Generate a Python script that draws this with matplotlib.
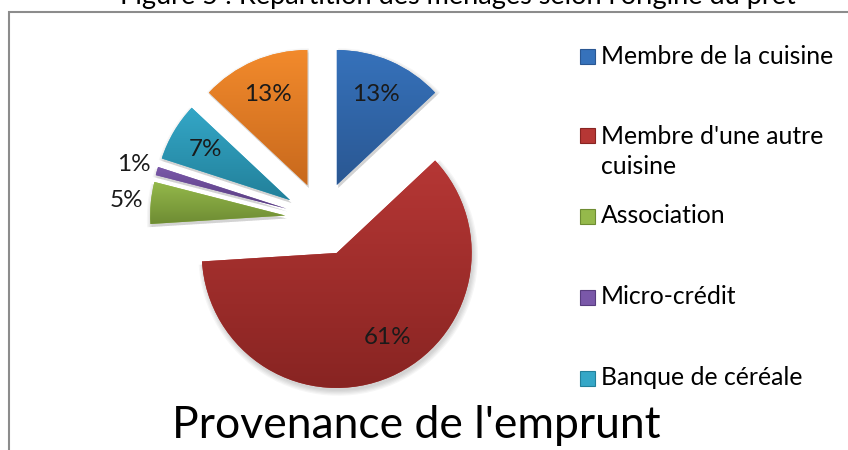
import matplotlib
matplotlib.use('Agg')
import matplotlib.pyplot as plt
import numpy as np
from matplotlib.patches import Rectangle, Wedge
from matplotlib.colors import LinearSegmentedColormap

# ---- data ----
categories = ["Membre de la cuisine", "Membre d'une autre cuisine", "Association",
              "Micro-crédit", "Banque de céréale", "Autre"]
values = [13, 61, 5, 1, 7, 13]
pct_labels = ["13%", "61%", "5%", "1%", "7%", "13%"]
legend_labels = ["Membre de la cuisine", "Membre d'une autre\ncuisine", "Association",
                 "Micro-crédit", "Banque de céréale"]
top_colors = ['#3672BB', '#B63735', '#95B94B', '#7A58A9', '#34A7C7', '#F28A2C']
bottom_colors = ['#2A5792', '#882422', '#6E8C33', '#583D7F', '#22809A', '#C8691D']

W, H = 848, 450
FONT = ['Lato', 'DejaVu Sans']
plt.rcParams['font.family'] = FONT

fig = plt.figure(figsize=(W / 100, H / 100), dpi=100)
ax = fig.add_axes([0, 0, 1, 1])


def Y(y):
    return H - y


center = (322, Y(219))
radius = 135
explode = [37] * len(values)

wedges, _ = ax.pie(values, colors=top_colors, startangle=90, counterclock=False,
                   radius=radius, center=center, explode=explode,
                   wedgeprops=dict(linewidth=0, zorder=3))

# soft shadows
for w in wedges:
    cx, cy = w.center
    for k in range(5):
        sh = Wedge((cx + 1.5, cy - 3), w.r + k * 1.2, w.theta1, w.theta2,
                   facecolor='black', alpha=0.035, linewidth=0, zorder=1)
        ax.add_patch(sh)

# gradient fill of each wedge
grad = np.linspace(0, 1, 256).reshape(-1, 1)
for i, w in enumerate(wedges):
    bb = w.get_path().get_extents()
    cmap = LinearSegmentedColormap.from_list('g%d' % i, [bottom_colors[i], top_colors[i]])
    im = ax.imshow(grad, cmap=cmap, origin='lower', aspect='auto',
                   extent=(bb.x0, bb.x1, bb.y0, bb.y1), zorder=4, interpolation='bilinear')
    im.set_clip_path(w)

# percentage labels
for i, w in enumerate(wedges):
    cx, cy = w.center
    th = np.deg2rad((w.theta1 + w.theta2) / 2)
    f = 1.18 if values[i] < 6 else 0.73
    if values[i] > 50:
        th = np.deg2rad((w.theta1 + w.theta2) / 2 + 8)
    ax.text(cx + f * w.r * np.cos(th), cy + f * w.r * np.sin(th), pct_labels[i],
            ha='center', va='center', fontsize=17.5, color='#1a1a1a', zorder=6)

# legend
leg_y = [56.5, 135, 216, 297, 378]
line_gap = 32
for i, lab in enumerate(legend_labels):
    yc = Y(leg_y[i])
    nlines = lab.count('\n') + 1
    ax.add_patch(Rectangle((580, yc - 7.5), 15, 15, facecolor=top_colors[i],
                           edgecolor=bottom_colors[i], linewidth=0.8, zorder=5))
    ax.text(601, yc - 7 - (nlines - 1) * line_gap, lab, ha='left', va='baseline',
            fontsize=17.8, color='black', linespacing=1.36, zorder=6)

# titles
ax.text(458, Y(4.3), "Figure 5 : Répartition des ménages selon l'origine du prêt",
        ha='center', va='baseline', fontsize=19.5, color='black')
ax.text(416, Y(438), "Provenance de l'emprunt", ha='center', va='baseline',
        fontsize=32, color='black')

# chart border
ax.add_patch(Rectangle((8.5, -20), W + 20, Y(11.5) + 20, facecolor='none',
                       edgecolor='#8c8c8c', linewidth=1.5, zorder=0))

ax.set_xlim(0, W)
ax.set_ylim(0, H)
ax.set_aspect('equal')
ax.axis('off')

fig.savefig('out.png', dpi=100)
